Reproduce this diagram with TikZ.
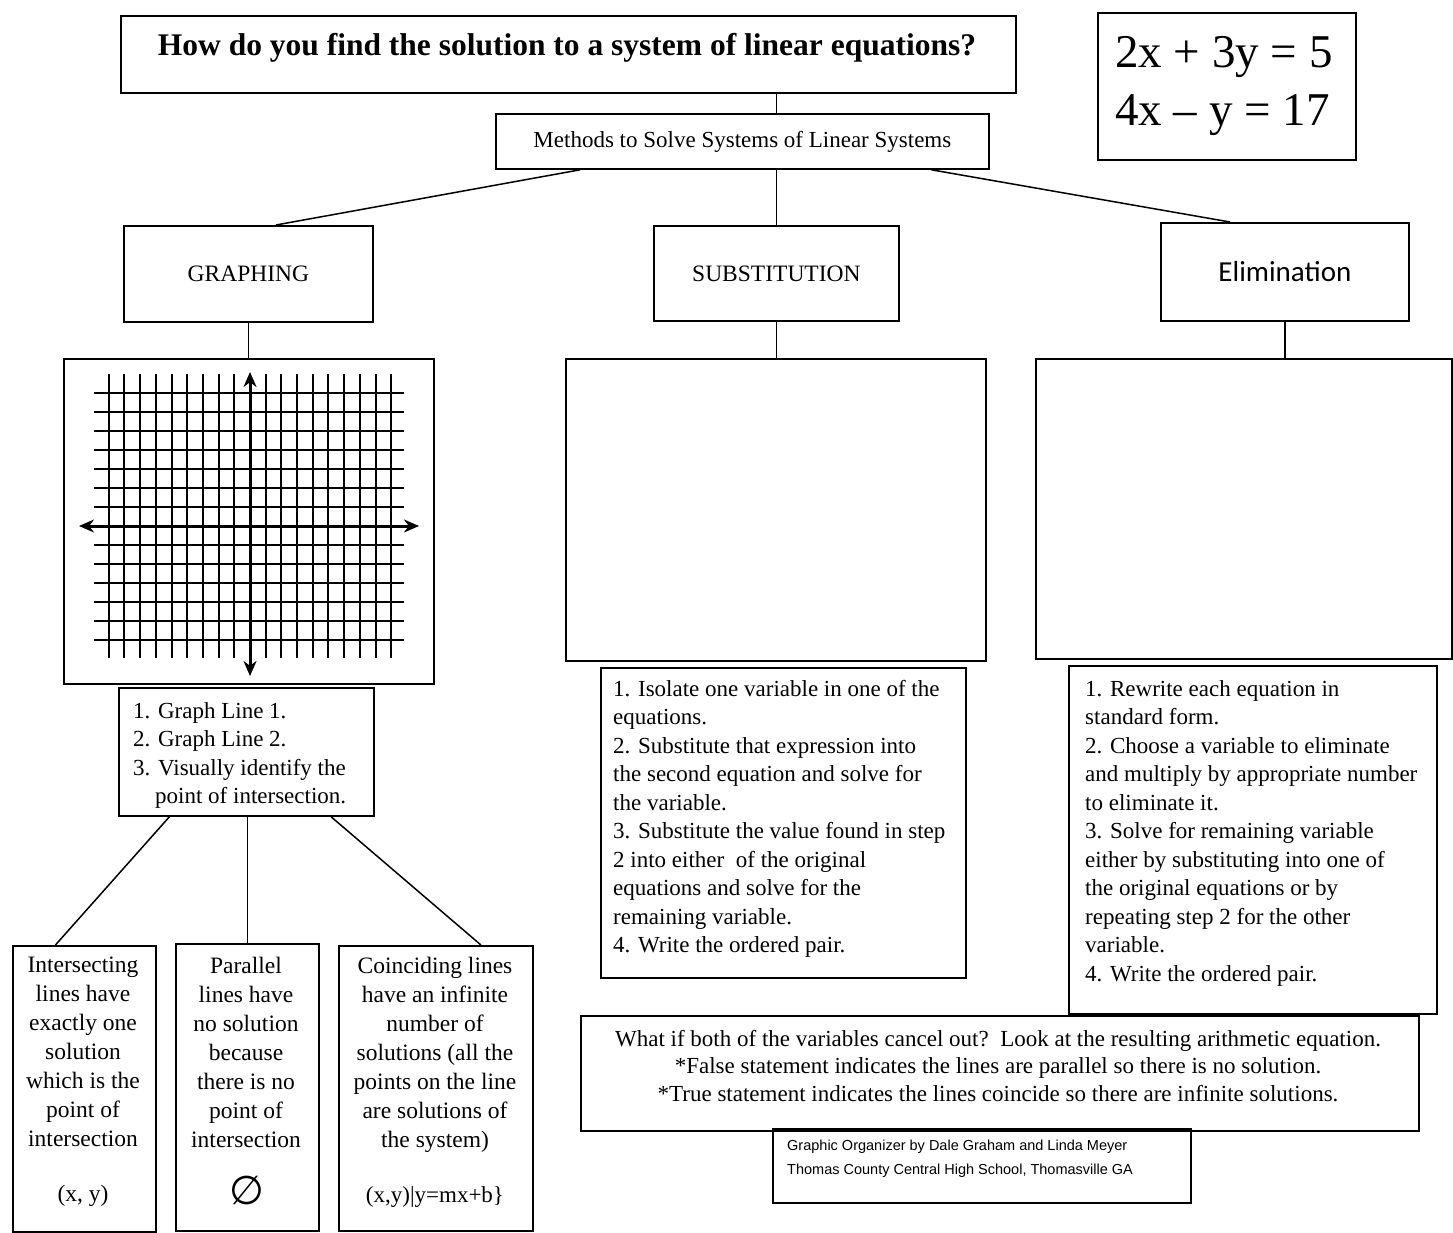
\documentclass[tikz,border=0pt]{standalone}
\usepackage{fontspec}
\setmainfont{Liberation Serif}
\newfontfamily\calibfont{Carlito}
\newfontfamily\creditfont{Liberation Sans}
\newfontfamily\symbfont{DejaVu Sans}
\usetikzlibrary{calc,arrows.meta}
\begin{document}
\begin{tikzpicture}[x=1pt,y=-1pt,
  box/.style={draw, line width=1.8pt, inner sep=0pt, anchor=north west},
  conn/.style={line width=1.5pt},
  gline/.style={line width=2pt},
  axisline/.style={line width=3pt, {Stealth[length=15pt,width=13pt]}-{Stealth[length=15pt,width=13pt]}},
  steps/.style={anchor=north west, align=left, inner sep=0pt, font={\fontsize{23}{28.5}\selectfont}},
  cases/.style={anchor=north, align=center, inner sep=0pt, font={\fontsize{23.5}{29}\selectfont}},
  hdr/.style={font={\fontsize{23.5}{28}\selectfont}}
]
\useasboundingbox (0,0) rectangle (1453,1233);
\fill[white] (0,0) rectangle (1453,1233);

% boxes
\node[box, minimum width=895pt, minimum height=77pt] (title) at (120,15) {};
\node[font={\fontsize{31.5}{36}\selectfont\bfseries}] (titletext) at (567,48) {How do you find the solution to a system of linear equations?};

\node[box, minimum width=258pt, minimum height=147pt] (eq) at (1097,12) {};
\node[anchor=north west, align=left, inner sep=0pt, font={\fontsize{47}{58}\selectfont}] (eqtext) at (1115,36) {2x + 3y = 5\\4x – y = 17};

\node[box, minimum width=493pt, minimum height=55pt, font={\fontsize{23}{27}\selectfont}] (methods) at (495,113) {Methods to Solve Systems of Linear Systems};

\node[box, minimum width=249pt, minimum height=96pt, hdr] (graphing) at (123,225) {GRAPHING};
\node[box, minimum width=245pt, minimum height=95pt, hdr] (subst) at (653,225) {SUBSTITUTION};
\node[box, minimum width=248pt, minimum height=98pt, font={\fontsize{29}{34}\selectfont\calibfont}] (elim) at (1160,222) {Elimination};

\node[box, minimum width=370pt, minimum height=325pt] (gridbox) at (63,358) {};
\node[box, minimum width=420pt, minimum height=302pt] (subbox) at (565,358) {};
\node[box, minimum width=416pt, minimum height=300pt] (elimbox) at (1035,358) {};

\node[box, minimum width=255pt, minimum height=128pt] (graphsteps) at (118,687) {};
\node[steps] (graphstepstext) at (133,702) {1. Graph Line 1.\\2. Graph Line 2.\\3. Visually identify the\\\hspace*{22pt}point of intersection.};

\node[box, minimum width=365pt, minimum height=310pt] (substeps) at (600,667) {};
\node[steps] (substepstext) at (613,680) {1. Isolate one variable in one of the\\equations.\\2. Substitute that expression into\\the second equation and solve for\\the variable.\\3. Substitute the value found in step\\2 into either\ \ of the original\\equations and solve for the\\remaining variable.\\4. Write the ordered pair.};

\node[box, minimum width=368pt, minimum height=348pt] (elimsteps) at (1068,665) {};
\node[steps] (elimstepstext) at (1085,680) {1. Rewrite each equation in\\standard form.\\2. Choose a variable to eliminate\\and multiply by appropriate number\\to eliminate it.\\3. Solve for remaining variable\\either by substituting into one of\\the original equations or by\\repeating step 2 for the other\\variable.\\4. Write the ordered pair.};

\node[box, minimum width=838pt, minimum height=115pt] (whatif) at (580,1015) {};
\node[anchor=north, align=center, inner sep=0pt, font={\fontsize{23}{27.5}\selectfont}] (whatiftext) at (998,1030) {What if both of the variables cancel out?\ \ Look at the resulting arithmetic equation.\\*False statement indicates the lines are parallel so there is no solution.\\*True statement indicates the lines coincide so there are infinite solutions.};

\node[box, minimum width=418pt, minimum height=74pt] (credit) at (772,1128) {};
\node[anchor=north west, align=left, inner sep=0pt, font={\fontsize{14.5}{24}\selectfont\creditfont}] (credittext) at (787,1140) {Graphic Organizer by Dale Graham and Linda Meyer\\Thomas County Central High School, Thomasville GA};

\node[box, minimum width=143pt, minimum height=286pt] (b1) at (12,945) {};
\node[cases] (b1text) at (83,957) {Intersecting\\lines have\\exactly one\\solution\\which is the\\point of\\intersection};
\node[font={\fontsize{23.5}{28}\selectfont}] (b1sym) at (83,1196) {(x, y)};

\node[box, minimum width=143pt, minimum height=287pt] (b2) at (175,943) {};
\node[cases] (b2text) at (246,957) {Parallel\\lines have\\no solution\\because\\there is no\\point of\\intersection};
\node[font={\fontsize{40}{44}\selectfont\symbfont}] (b2sym) at (247,1190) {∅};

\node[box, minimum width=194pt, minimum height=285pt] (b3) at (338,945) {};
\node[cases] (b3text) at (435,957) {Coinciding lines\\have an infinite\\number of\\solutions (all the\\points on the line\\are solutions of\\the system)};
\node[font={\fontsize{23}{28}\selectfont}] (b3sym) at (435,1197) {(x,y)|y=mx+b\}};

% grid
\foreach \k in {-9,...,9} {
  \draw[gline] ({round(250+15.7*\k)},374) -- ({round(250+15.7*\k)},658);
}
\foreach \j in {-7,...,6} {
  \draw[gline] (94,{526+19*\j}) -- (404,{526+19*\j});
}
\draw[axisline] (79,526) -- (419,526);
\draw[axisline] (250,372) -- (250,676);

% connectors
\draw[conn] (title.south -| subst.north) -- (methods.north -| subst.north);
\draw[conn] (methods.south -| subst.north) -- (subst.north);
\draw[conn] ($(methods.south west)!0.172!(methods.south east)$) -- ($(graphing.north west)!0.61!(graphing.north east)$);
\draw[conn] ($(methods.south west)!0.882!(methods.south east)$) -- ($(elim.north west)!0.28!(elim.north east)$);
\draw[conn] (graphing.south) -- (graphing.south |- gridbox.north);
\draw[conn] (subst.south) -- (subst.south |- subbox.north);
\draw[conn] (elim.south) -- (elim.south |- elimbox.north);
\draw[conn] ($(graphsteps.south west)!0.2!(graphsteps.south east)$) -- ($(b1.north west)!0.3!(b1.north east)$);
\draw[conn] (graphsteps.south -| b2.north) -- (b2.north);
\draw[conn] ($(graphsteps.south west)!0.83!(graphsteps.south east)$) -- ($(b3.north west)!0.73!(b3.north east)$);
\end{tikzpicture}
\end{document}
